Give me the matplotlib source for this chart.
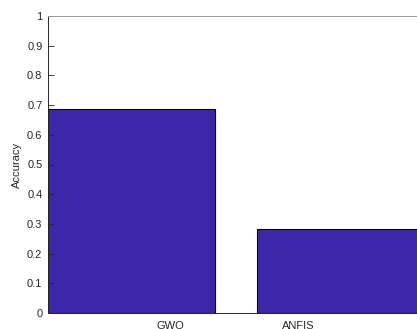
import matplotlib
matplotlib.use("Agg")
import matplotlib.pyplot as plt
import numpy as np

methods = ["GWO", "ANFIS"]
accuracy = [0.687, 0.282]
# label anchor points along the x axis (in bar units)
label_pos = [1.185, 1.797]
yticks = [0, 0.1, 0.2, 0.3, 0.4, 0.5, 0.6, 0.7, 0.8, 0.9, 1]

plt.rcParams['font.family'] = ['Liberation Sans', 'DejaVu Sans']
txt = '#262626'

fig = plt.figure(figsize=(4.17, 3.29), dpi=100)
ax = fig.add_axes([48/417, 16/329, 397/417, 297/329])

x = np.arange(1, len(accuracy) + 1)
ax.bar(x, accuracy, width=0.8, color='#3E26A8', edgecolor='black', linewidth=0.8)

ax.set_xlim(0.6, 2.5)
ax.set_ylim(0, 1)
ax.set_yticks(yticks)
ax.set_yticklabels(["0" if v == 0 else ("1" if v == 1 else f"{v:g}") for v in yticks])
ax.set_xticks(label_pos)
ax.set_xticklabels(methods)
ax.tick_params(axis='x', length=0, pad=6, labelsize=8, colors=txt)
ax.tick_params(axis='y', direction='in', length=4, width=0.6, pad=4, labelsize=8,
               colors=txt)
ax.set_ylabel("Accuracy", fontsize=8, color=txt, labelpad=4)

for side in ['left', 'bottom']:
    ax.spines[side].set_color(txt)
    ax.spines[side].set_linewidth(0.7)
ax.spines['top'].set_color('#9a9a9a')
ax.spines['top'].set_linewidth(0.7)
ax.spines['right'].set_visible(False)

fig.savefig("out.png", dpi=100)
